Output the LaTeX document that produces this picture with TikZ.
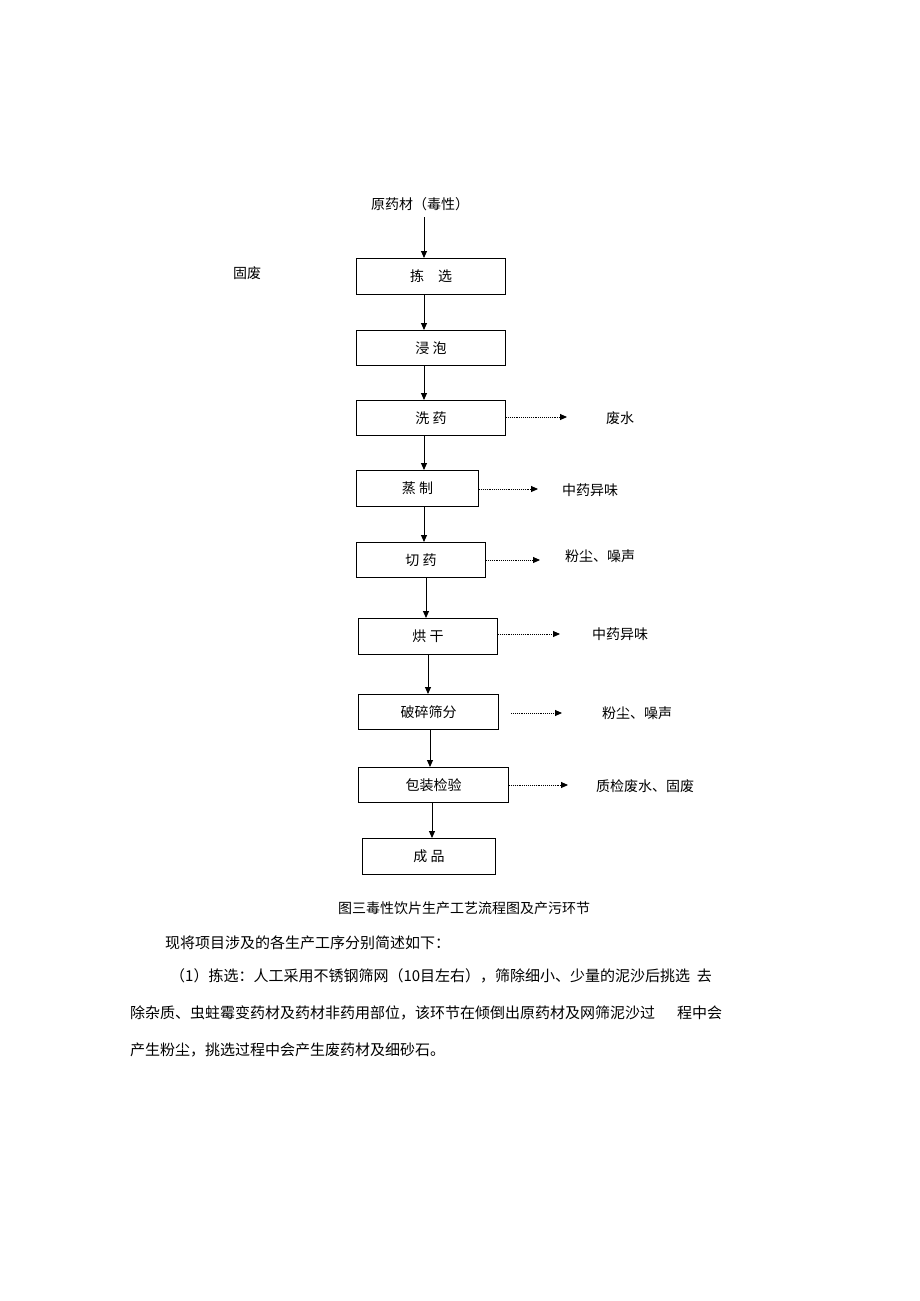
\documentclass[tikz,border=0pt]{standalone}
\usepackage{fontspec}
\setmainfont{Noto Sans CJK SC}
\usetikzlibrary{arrows.meta}
\begin{document}
\begin{tikzpicture}[x=1pt,y=-1pt,
  box/.style={draw,line width=1pt,anchor=north west,font=\fontsize{14}{16}\selectfont},
  flow/.style={-{Triangle[length=7pt,width=6pt]},line width=0.9pt},
  dot/.style={-{Triangle[length=7pt,width=6pt]},densely dotted,line width=0.9pt},
  lbl/.style={font=\fontsize{14}{16}\selectfont},
  para/.style={anchor=west,font=\fontsize{15}{17}\selectfont,inner sep=0}]
\useasboundingbox (0,0) rectangle (920,1301);
\fill[white] (0,0) rectangle (920,1301);
\newcommand{\bx}[6]{\node[box,minimum width=#4pt,minimum height=#5pt,inner sep=0] (#1) at (#2,#3) {}; \node[lbl] at (#1.center) {#6};}
\bx{b1}{356}{258}{149}{36}{拣\quad 选}
\bx{b2}{356}{330}{149}{35}{浸\ 泡}
\bx{b3}{356}{400}{149}{35}{洗\ 药}
\bx{b4}{356}{470}{122}{36}{蒸\ 制}
\bx{b5}{356}{542}{129}{35}{切\ 药}
\bx{b6}{358}{618}{139}{36}{烘\ 干}
\bx{b7}{358}{694}{140}{35}{破碎筛分}
\bx{b8}{358}{767}{150}{35}{包装检验}
\bx{b9}{362}{838}{133}{36}{成\ 品}
\node[lbl] (top) at (420,204) {原药材（毒性）};
\node[lbl] (gf) at (247,273) {固废};
\coordinate (t0) at (424,217);
\draw[flow] (t0) -- (424,258);
\draw[flow] (424,294) -- (424,330);
\draw[flow] (424,365) -- (424,400);
\draw[flow] (424,435) -- (424,470);
\draw[flow] (424,506) -- (424,542);
\draw[flow] (426,577) -- (426,618);
\draw[flow] (428,654) -- (428,694);
\draw[flow] (430,729) -- (430,767);
\draw[flow] (432,802) -- (432,838);
\node[lbl] (o3) at (620,418) {废水};
\node[lbl] (o4) at (590,490) {中药异味};
\node[lbl] (o5) at (600,556) {粉尘、噪声};
\node[lbl] (o6) at (620,634) {中药异味};
\node[lbl] (o7) at (637,713) {粉尘、噪声};
\node[lbl] (o8) at (645,786) {质检废水、固废};
\draw[dot] (b3.east |- 0,417) -- (567,417);
\draw[dot] (b4.east |- 0,489) -- (538,489);
\draw[dot] (b5.east |- 0,560) -- (540,560);
\draw[dot] (b6.east |- 0,634) -- (560,634);
\draw[dot] (b7.east |- 0,713) ++(12,0) -- (562,713);
\draw[dot] (b8.east |- 0,785) -- (568,785);
\node[lbl] (cap) at (464,908) {图三毒性饮片生产工艺流程图及产污环节};
\node[para] (p1) at (165,943) {现将项目涉及的各生产工序分别简述如下：};
\node[para] (p2) at (170,976) {（1）拣选：人工采用不锈钢筛网（10目左右），筛除细小、少量的泥沙后挑选\ \ 去};
\node[para] (p3) at (130,1013) {除杂质、虫蛀霉变药材及药材非药用部位，该环节在倾倒出原药材及网筛泥沙过\hspace{22pt}程中会};
\node[para] (p4) at (130,1050) {产生粉尘，挑选过程中会产生废药材及细砂石。};
\end{tikzpicture}
\end{document}
